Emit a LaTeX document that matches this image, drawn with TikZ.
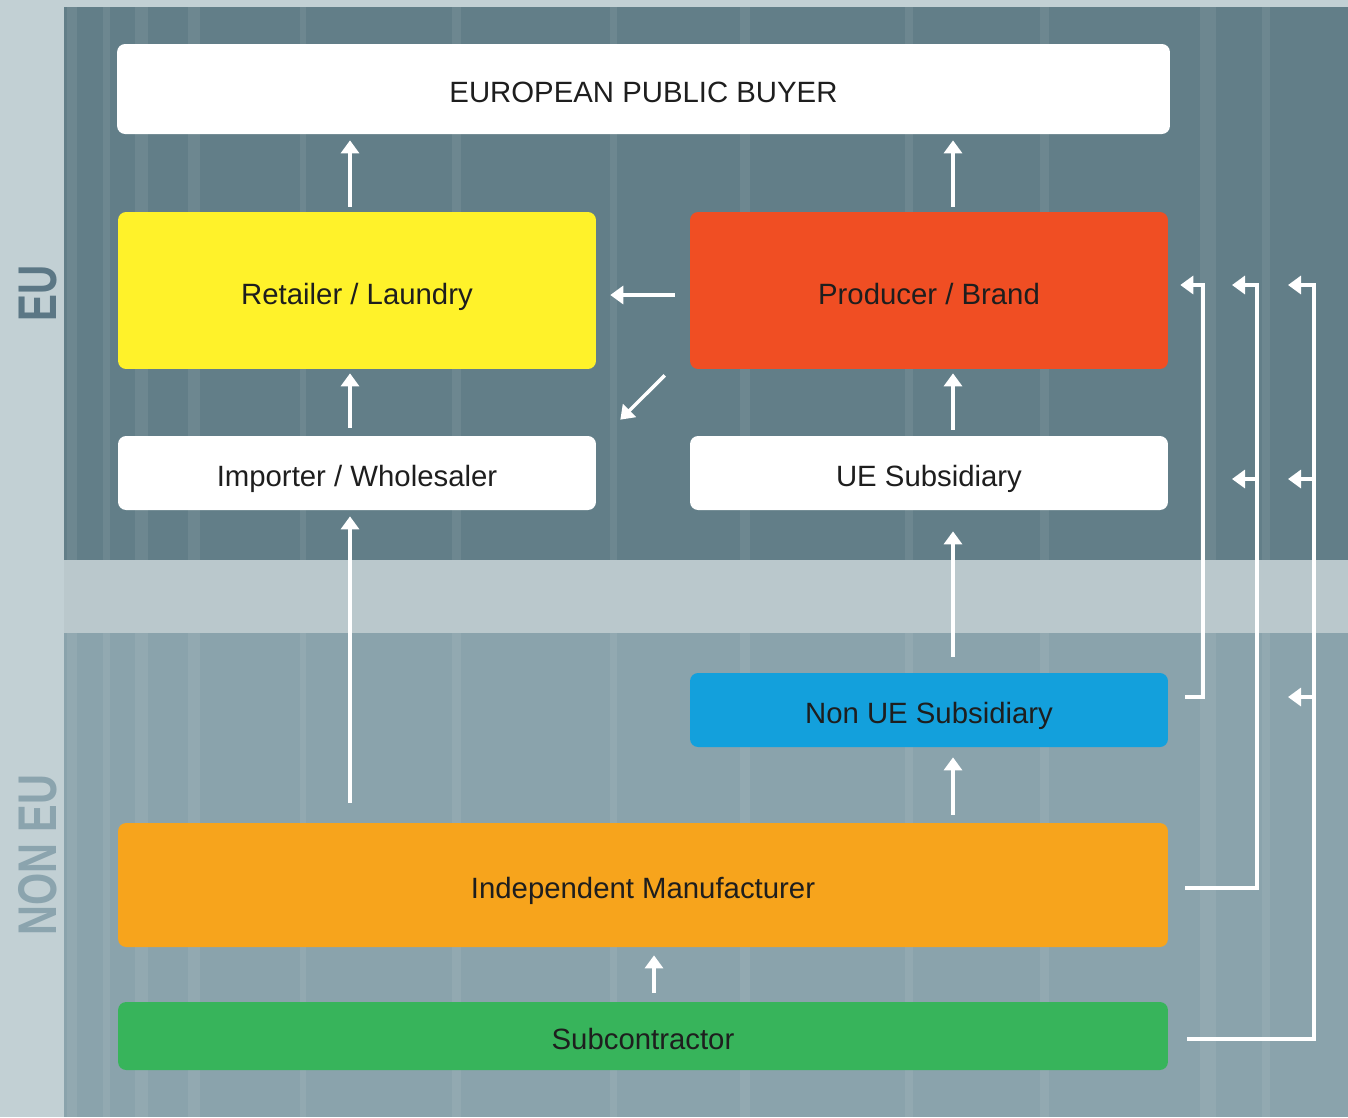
\documentclass[tikz,border=0pt]{standalone}
\usepackage{fontspec}
\setmainfont{Liberation Sans}
\usepackage{graphicx}
\usetikzlibrary{arrows.meta, calc, positioning}
\definecolor{euslate}{RGB}{98,126,136}
\definecolor{noneuslate}{RGB}{138,163,172}
\definecolor{sidepale}{RGB}{194,208,212}
\definecolor{bandpale}{RGB}{186,200,204}
\definecolor{retailyellow}{RGB}{255,242,42}
\definecolor{brandred}{RGB}{240,78,35}
\definecolor{subblue}{RGB}{19,160,220}
\definecolor{manuorange}{RGB}{247,164,28}
\definecolor{subgreen}{RGB}{55,180,91}
\definecolor{eulabel}{RGB}{91,119,133}
\definecolor{noneulabel}{RGB}{139,164,174}
\definecolor{boxtext}{RGB}{30,30,30}

\begin{document}
\begin{tikzpicture}[x=0.02cm, y=-0.02cm,
  box/.style={rounded corners=0.16cm, inner sep=0pt, text=boxtext, text height=0.54cm, text depth=0pt, font=\fontsize{16.7}{20}\selectfont},
  halfbox/.style={box, minimum width=9.56cm},
  fullbox/.style={box, minimum width=21.0cm},
  flow/.style={draw=white, line width=0.07cm, shorten <=0.1cm, shorten >=0.12cm, -{Triangle[length=0.26cm,width=0.36cm]}},
  railflow/.style={draw=white, line width=0.07cm, -{Triangle[length=0.26cm,width=0.36cm]}},
  zone/.style={font=\bfseries\fontsize{31}{31}\selectfont, rotate=90, inner sep=0pt}]
  \useasboundingbox (0,0) rectangle (1348,1117);
  \fill[sidepale] (0,0) rectangle (1348,1117);
  \fill[euslate] (64,7) rectangle (1348,560);
  \fill[noneuslate] (64,633) rectangle (1348,1117);
  \foreach \sx/\sw in {67/10, 103/7, 135/13, 188/12, 300/6, 452/9, 610/7, 740/10, 905/8, 1040/9, 1200/16, 1262/8}
    \fill[white, opacity=0.07] (\sx,7) rectangle ++(\sw,1110);
  \fill[bandpale] (64,560) rectangle (1348,633);

  \node[zone, text=eulabel] (eu) at (38,293) {\scalebox{0.74}[1]{EU}};
  \node[zone, text=noneulabel] (noneu) at (38,855) {\scalebox{0.76}[1]{NON EU}};

  \node[fullbox, fill=white, minimum width=21.06cm, minimum height=1.8cm] (buyer) at (643.5,89) {EUROPEAN PUBLIC BUYER};
  \node[halfbox, fill=retailyellow, minimum height=3.14cm] (retailer) at (357,290.5) {Retailer / Laundry};
  \node[halfbox, fill=brandred, minimum height=3.14cm] (producer) at (929,290.5) {Producer / Brand};
  \node[halfbox, fill=white, minimum height=1.48cm] (importer) at (357,473) {Importer / Wholesaler};
  \node[halfbox, fill=white, minimum height=1.48cm] (uesub) at (929,473) {UE Subsidiary};
  \node[halfbox, fill=subblue, minimum height=1.48cm] (nonuesub) at (929,710) {Non UE Subsidiary};
  \node[fullbox, fill=manuorange, minimum height=2.48cm] (manuf) at (643,885) {Independent Manufacturer};
  \node[fullbox, fill=subgreen, minimum height=1.36cm] (subcon) at (643,1036) {Subcontractor};

  \draw[flow] (retailer.north -| 350,0) -- (buyer.south -| 350,0);
  \draw[flow] (producer.north -| 953,0) -- (buyer.south -| 953,0);
  \draw[flow, shorten <=0.3cm, shorten >=0.28cm] (producer.west |- 0,295) -- (retailer.east |- 0,295);
  \draw[flow, shorten <=0cm, shorten >=0cm] ($(producer.south west)+(-25,6)$) -- ($(importer.north east)+(24,-16)$);
  \draw[flow, shorten <=0.16cm, shorten >=0.08cm] (importer.north -| 350,0) -- (retailer.south -| 350,0);
  \draw[flow, shorten <=0.12cm, shorten >=0.08cm] (uesub.north -| 953,0) -- (producer.south -| 953,0);
  \draw[flow, shorten <=0.4cm, shorten >=0.12cm] (manuf.north -| 350,0) -- (importer.south -| 350,0);
  \draw[flow, shorten <=0.32cm, shorten >=0.42cm] (nonuesub.north -| 953,0) -- (uesub.south -| 953,0);
  \draw[flow, shorten <=0.16cm, shorten >=0.2cm] (manuf.north -| 953,0) -- (nonuesub.south -| 953,0);
  \draw[flow, shorten <=0.18cm, shorten >=0.16cm] (subcon.north -| 654,0) -- (manuf.south -| 654,0);

  \coordinate (manuftip) at (1232,285);
  \coordinate (manufuetip) at (1232,479);
  \coordinate (subcontip) at (1288,285);
  \coordinate (subconuetip) at (1288,479);
  \coordinate (subconnontip) at (1288,697);
  \draw[railflow] ($(nonuesub.east |- 0,697)+(17,0)$) -| (1203,285) -- ($(producer.east |- 0,285)+(12,0)$);
  \draw[railflow] ($(manuf.east |- 0,888)+(17,0)$) -| (1257,285) -- (manuftip);
  \draw[railflow] (1257,479) -- (manufuetip);
  \draw[railflow] ($(subcon.east |- 0,1039)+(19,0)$) -| (1314,285) -- (subcontip);
  \draw[railflow] (1314,479) -- (subconuetip);
  \draw[railflow] (1314,697) -- (subconnontip);
\end{tikzpicture}
\end{document}
